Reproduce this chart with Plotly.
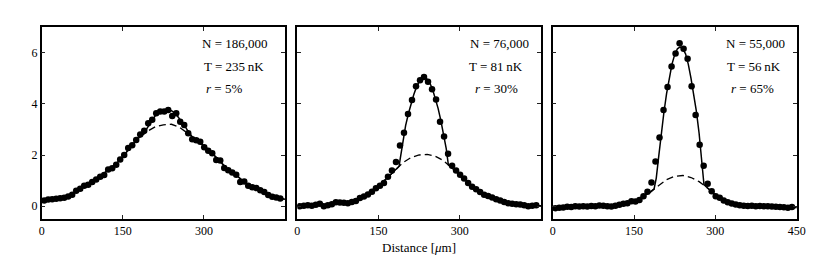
import plotly.graph_objects as go

# ---------------- data ----------------
X_POINTS = [4.6, 12.0, 19.4, 26.8, 34.2, 41.6, 49.0, 56.4, 63.8, 71.2, 78.6, 86.0, 93.4, 100.8,
            108.2, 115.6, 123.0, 130.4, 137.8, 145.2, 152.6, 160.0, 167.4, 174.8, 182.2, 189.6,
            197.0, 204.4, 211.8, 219.2, 226.6, 234.0, 241.4, 248.8, 256.2, 263.6, 271.0, 278.4,
            285.8, 293.2, 300.6, 308.0, 315.4, 322.8, 330.2, 337.6, 345.0, 352.4, 359.8, 367.2,
            374.6, 382.0, 389.4, 396.8, 404.2, 411.6, 419.0, 426.4, 433.8, 441.2]

DOTS_1 = [0.22, 0.26, 0.27, 0.29, 0.31, 0.33, 0.38, 0.45, 0.60, 0.68, 0.80, 0.84, 0.95, 1.04,
          1.15, 1.22, 1.43, 1.48, 1.62, 1.82, 2.00, 2.27, 2.38, 2.59, 2.80, 2.95,
          3.24, 3.38, 3.63, 3.70, 3.70, 3.76, 3.52, 3.63, 3.30, 3.17, 2.85, 2.62,
          2.58, 2.52, 2.30, 2.17, 2.07, 1.80, 1.79, 1.49, 1.40, 1.32, 1.23, 0.95,
          0.96, 0.80, 0.74, 0.71, 0.62, 0.55, 0.44, 0.37, 0.34, 0.30]

DOTS_2 = [0.00, 0.02, 0.04, 0.02, 0.06, 0.10, 0.00, 0.04, 0.08, 0.15, 0.14, 0.13, 0.12, 0.16,
          0.20, 0.32, 0.38, 0.46, 0.56, 0.70, 0.80, 0.91, 1.15, 1.39, 1.73, 2.37,
          2.87, 3.60, 4.15, 4.69, 4.92, 5.05, 4.86, 4.57, 4.17, 3.30, 2.72, 2.05,
          1.58, 1.39, 1.23, 1.08, 0.91, 0.76, 0.66, 0.55, 0.45, 0.40, 0.34, 0.27,
          0.22, 0.16, 0.12, 0.10, 0.08, 0.07, 0.04, 0.00, 0.02, 0.04]

DOTS_3 = [-0.08, -0.06, -0.05, -0.02, -0.03, 0.00, -0.01, 0.00, -0.01, 0.01, 0.00, 0.03, 0.02, 0.00,
          -0.01, 0.02, 0.06, 0.10, 0.12, 0.19, 0.18, 0.24, 0.39, 0.56, 0.93, 1.75,
          2.68, 3.76, 4.66, 5.46, 5.96, 6.37, 6.15, 5.76, 4.69, 3.56, 2.40, 1.58,
          0.88, 0.58, 0.39, 0.33, 0.22, 0.15, 0.11, 0.07, 0.04, 0.02, 0.01, 0.02,
          0.00, 0.01, 0.00, 0.00, -0.01, -0.02, -0.03, -0.04, -0.06, -0.03]

X_THERMAL = [0, 15, 30, 45, 60, 75, 90, 105, 120, 135, 150, 165, 180, 195, 210, 225, 240,
             255, 270, 285, 300, 315, 330, 345, 360, 375, 390, 405, 420, 435, 450]
THERMAL_1 = [0.20, 0.25, 0.30, 0.37, 0.52, 0.74, 0.95, 1.13, 1.38, 1.60, 1.93, 2.33, 2.68, 2.92,
             3.10, 3.18, 3.20, 3.08, 2.85, 2.58, 2.36, 2.08, 1.74, 1.42, 1.20, 0.95, 0.74, 0.60,
             0.43, 0.33, 0.27]
THERMAL_2 = [0.02, 0.02, 0.03, 0.04, 0.06, 0.10, 0.15, 0.24, 0.38, 0.57, 0.80, 1.08, 1.40, 1.70,
             1.90, 2.00, 2.02, 1.95, 1.78, 1.50, 1.22, 0.93, 0.67, 0.47, 0.31, 0.20, 0.12, 0.07,
             0.04, 0.03, 0.02]
THERMAL_3 = [-0.05, -0.05, -0.04, -0.03, -0.02, 0.00, 0.02, 0.03, 0.06, 0.12, 0.20, 0.36, 0.55, 0.80,
             1.04, 1.17, 1.20, 1.12, 0.96, 0.72, 0.45, 0.25, 0.12, 0.05, 0.01, -0.01, -0.02, -0.03,
             -0.04, -0.05, -0.05]

# total fit (thermal + condensate)
X_FIT_1 = [0, 15, 30, 45, 60, 75, 90, 105, 120, 135, 150, 165, 180,
           190, 195, 200, 205, 210, 215, 220, 225, 230, 235, 240, 245, 250, 255, 260, 265, 270, 275, 280,
           285, 300, 315, 330, 345, 360, 375, 390, 405, 420, 435, 450]
FIT_1 = [0.20, 0.25, 0.30, 0.37, 0.52, 0.74, 0.95, 1.13, 1.38, 1.60, 1.93, 2.33, 2.68,
         2.84, 3.05, 3.22, 3.40, 3.53, 3.63, 3.70, 3.74, 3.76, 3.76, 3.73, 3.66, 3.55, 3.42, 3.28, 3.12, 2.95, 2.80, 2.67,
         2.58, 2.36, 2.08, 1.74, 1.42, 1.20, 0.95, 0.74, 0.60, 0.43, 0.33, 0.27]

X_FIT_2 = [0, 15, 30, 45, 60, 75, 90, 105, 120, 135, 150, 165, 180,
           188, 190, 195, 200, 205, 210, 215, 220, 225, 230, 235, 240, 245, 250, 255, 260, 265, 270, 275, 279,
           285, 300, 315, 330, 345, 360, 375, 390, 405, 420, 435, 450]
FIT_2 = [0.02, 0.02, 0.03, 0.04, 0.06, 0.10, 0.15, 0.24, 0.38, 0.57, 0.80, 1.08, 1.40,
         1.56, 1.85, 2.60, 3.15, 3.60, 4.00, 4.35, 4.65, 4.86, 4.98, 5.02, 4.96, 4.80, 4.55, 4.22, 3.82, 3.35, 2.80, 2.25, 1.61,
         1.50, 1.22, 0.93, 0.67, 0.47, 0.31, 0.20, 0.12, 0.07, 0.04, 0.03, 0.02]

X_FIT_3 = [0, 15, 30, 45, 60, 75, 90, 105, 120, 135, 150, 165, 180,
           187, 191, 195, 200, 205, 210, 215, 220, 225, 230, 235, 240, 245, 250, 255, 260, 265, 270, 275, 279,
           285, 300, 315, 330, 345, 360, 375, 390, 405, 420, 435, 450]
FIT_3 = [-0.05, -0.05, -0.04, -0.03, -0.02, 0.00, 0.02, 0.03, 0.06, 0.12, 0.20, 0.36, 0.55,
         0.68, 1.10, 1.85, 2.80, 3.65, 4.40, 5.05, 5.55, 5.92, 6.15, 6.22, 6.15, 5.95, 5.55, 5.00, 4.40, 3.70, 2.85, 1.80, 0.84,
         0.72, 0.45, 0.25, 0.12, 0.05, 0.01, -0.01, -0.02, -0.03, -0.04, -0.05, -0.05]

LABELS_N = ["N = 186,000", "N = 76,000", "N = 55,000"]
LABELS_T = ["T = 235\u2009nK", "T = 81\u2009nK", "T = 56\u2009nK"]
LABELS_R = ["<i>r</i> = 5%", "<i>r</i> = 30%", "<i>r</i> = 65%"]
X_TICKS = [[0, 150, 300], [0, 150, 300], [0, 150, 300, 450]]
Y_TICKS = [0, 2, 4, 6]
X_TITLE = "Distance [<i>\u03bc</i>m]"

# ---------------- figure ----------------
# the page body has an 8px default margin, so the figure is 16px smaller than the window
OFF = 8.0
W, H = 830 - 2 * int(OFF), 275 - 2 * int(OFF)
FONT = "Liberation Serif"


def px_x(p):
    return (p - OFF) / W


def px_y(p):
    return 1 - (p - OFF) / H


dom_x = [(px_x(41.7), px_x(285.0)), (px_x(297.3), px_x(541.0)), (px_x(552.7), px_x(796.7))]
dom_y = (px_y(219.0), px_y(27.0))

fig = go.Figure()
dots = [DOTS_1, DOTS_2, DOTS_3]
therm = [THERMAL_1, THERMAL_2, THERMAL_3]
fits = [(X_FIT_1, FIT_1), (X_FIT_2, FIT_2), (X_FIT_3, FIT_3)]

for i in range(3):
    xa = "x" if i == 0 else f"x{i+1}"
    ya = "y" if i == 0 else f"y{i+1}"
    fig.add_trace(go.Scatter(x=X_THERMAL, y=therm[i], mode="lines", xaxis=xa, yaxis=ya,
                             line=dict(color="black", width=1.3, dash="7px,4px"),
                             showlegend=False, hoverinfo="skip"))
    fig.add_trace(go.Scatter(x=fits[i][0], y=fits[i][1], mode="lines", xaxis=xa, yaxis=ya,
                             line=dict(color="black", width=1.5),
                             showlegend=False, hoverinfo="skip"))
    fig.add_trace(go.Scatter(x=X_POINTS, y=dots[i], mode="markers", xaxis=xa, yaxis=ya,
                             marker=dict(color="black", size=6.5, line=dict(width=0)),
                             showlegend=False))

axis_common = dict(showline=True, linecolor="black", linewidth=1.5, mirror="ticks",
                   ticks="inside", ticklen=4, tickwidth=1, tickcolor="#222222",
                   showgrid=False, zeroline=False, automargin=False,
                   tickfont=dict(family=FONT, size=12, color="black"))

layout = dict(template="none", width=W, height=H, margin=dict(l=0, r=0, t=0, b=0, pad=0),
              paper_bgcolor="white", plot_bgcolor="white", showlegend=False,
              font=dict(family=FONT, size=12, color="black"))
for i in range(3):
    kx = "xaxis" if i == 0 else f"xaxis{i+1}"
    ky = "yaxis" if i == 0 else f"yaxis{i+1}"
    layout[kx] = dict(axis_common, domain=list(dom_x[i]), range=[0, 450],
                      tickvals=X_TICKS[i], ticktext=[str(v) for v in X_TICKS[i]],
                      anchor="y" if i == 0 else f"y{i+1}")
    layout[ky] = dict(axis_common, domain=list(dom_y), range=[-0.5, 7],
                      tickvals=Y_TICKS, showticklabels=(i == 0),
                      anchor="x" if i == 0 else f"x{i+1}")
fig.update_layout(**layout)

# text annotations placed by measured pixel positions
left_px = [[200, 201.7, 204], [468.3, 466.7, 473], [724, 725, 729]]
y_px = [43.3, 66.0, 88.3]
for i in range(3):
    for j, txt in enumerate([LABELS_N[i], LABELS_T[i], LABELS_R[i]]):
        fig.add_annotation(x=px_x(left_px[i][j]), y=px_y(y_px[j]), xref="paper", yref="paper",
                           text=txt, showarrow=False, xanchor="left", yanchor="middle",
                           font=dict(family=FONT, size=13, color="black"))

fig.add_annotation(x=px_x(419.2), y=px_y(247.3), xref="paper", yref="paper", text=X_TITLE,
                   showarrow=False, xanchor="center", yanchor="middle",
                   font=dict(family=FONT, size=13, color="black"))

fig.write_html("out.html")
